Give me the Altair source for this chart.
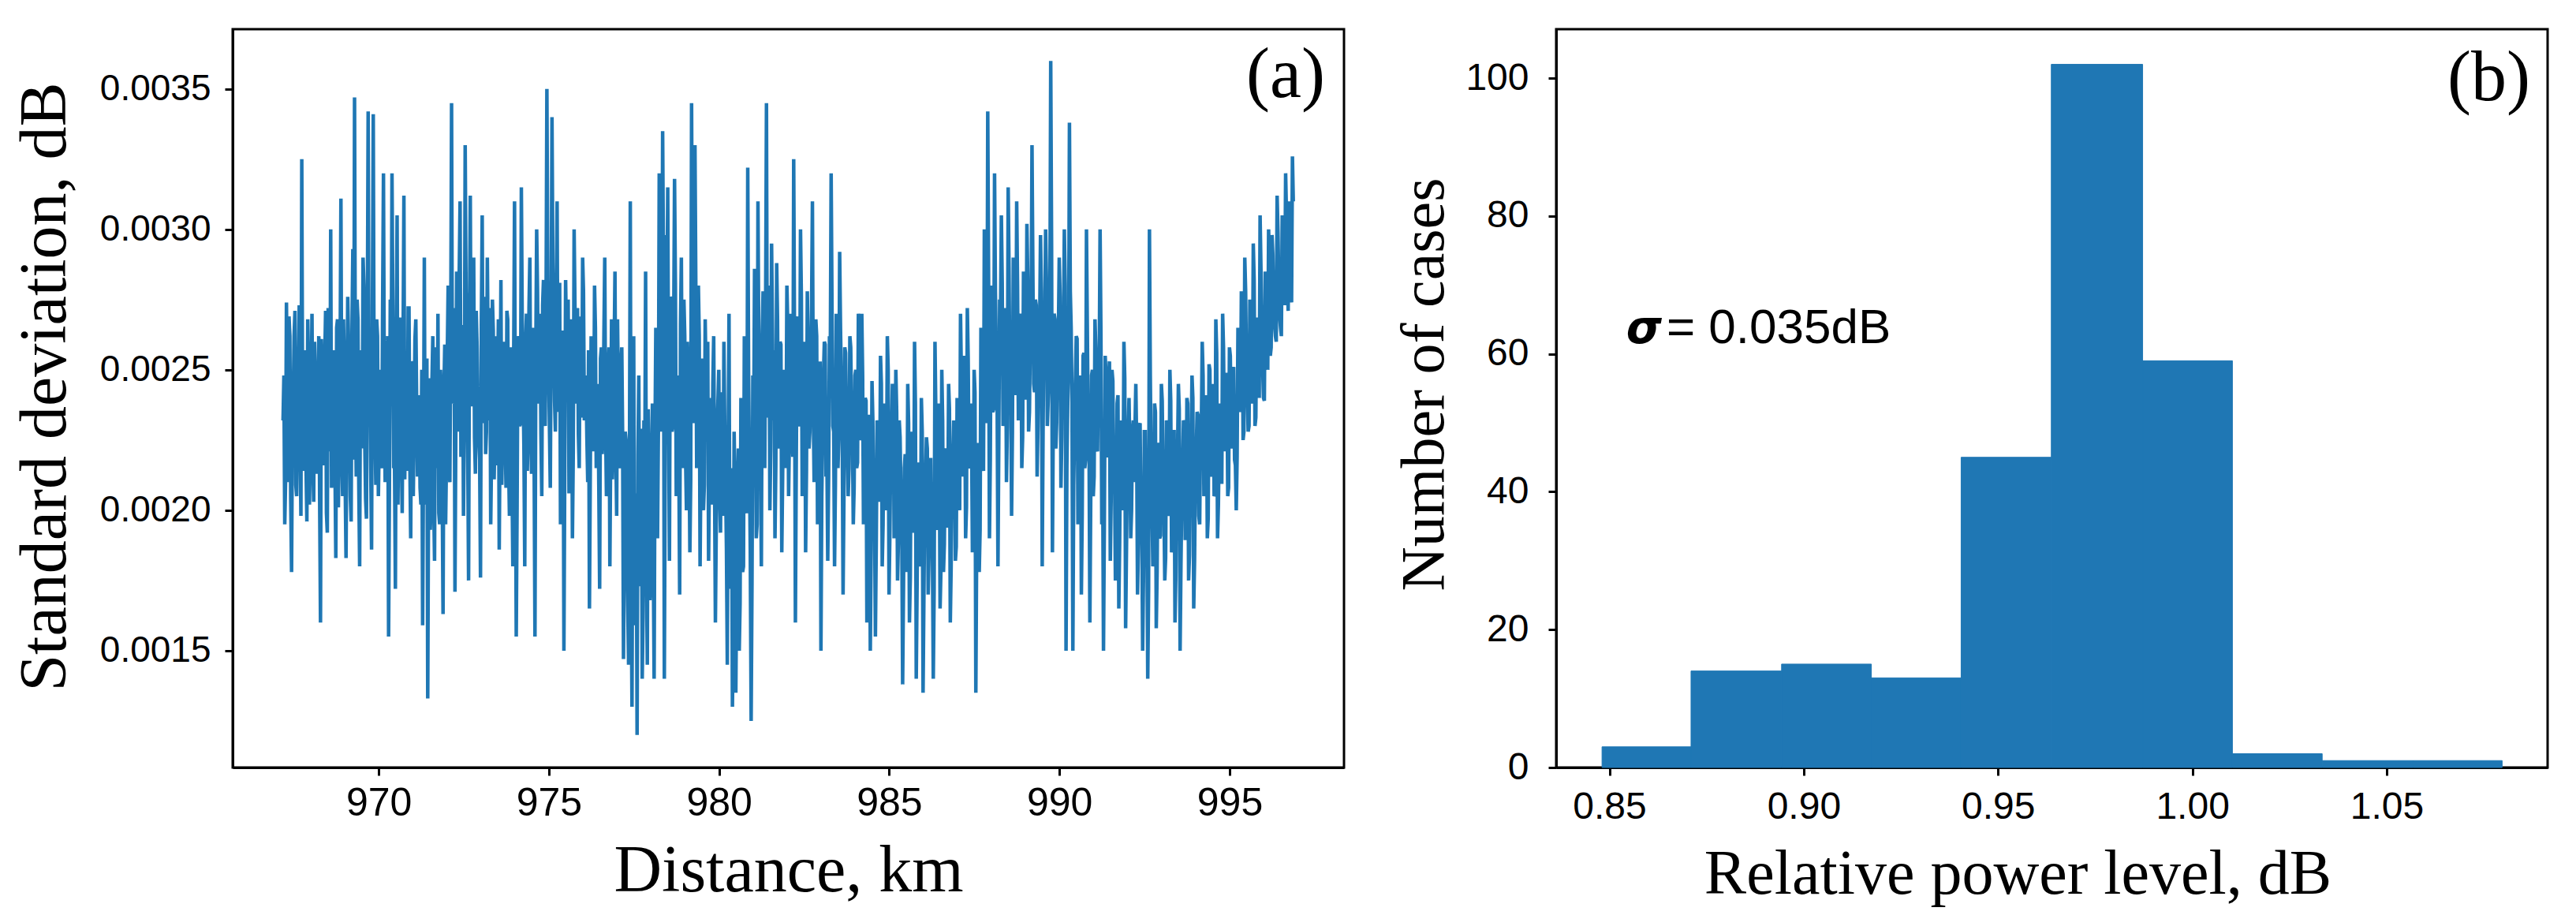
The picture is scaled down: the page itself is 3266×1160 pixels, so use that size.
import altair as alt
import numpy as np
import pandas as pd

# ---------------- Panel (a): standard deviation vs distance ----------------
# values in units of 1e-5 dB.
# seg_* : samples on the even positions, seg_*2 : samples on the odd positions
seg_a = [232, 195, 274, 210, 262, 178, 240, 271, 205, 248, 226, 325, 214, 238, 196, 251, 222, 270, 203, 245,
         218, 262, 160, 247, 228, 271, 192, 255, 300, 218, 236, 183, 268, 229, 311, 205, 250, 183, 276, 240,
         196, 293, 347, 212, 268, 180, 245, 290, 225, 197, 342, 260, 186, 341, 230, 268, 205, 250, 215, 320,
         210, 244, 155, 275, 320, 215, 172, 305, 238, 268, 199, 312, 246, 214, 272, 190, 252, 230, 268, 212,
         241, 202, 159, 290, 225, 133, 247, 205, 262, 182, 228, 270, 195, 241, 163, 259, 218, 280, 210, 345]
seg_a2 = [248, 211, 236, 269, 204, 230, 262, 209, 240, 273, 198, 233, 257, 216, 268, 202, 239, 218, 260, 213,
          237, 204, 261, 216, 253, 199, 272, 221, 208, 257, 216, 265, 201, 250, 222, 268, 210, 236, 259, 205,
          264, 218, 241, 275, 209, 257, 222, 280, 204, 263, 238, 216, 272, 241, 209, 262, 226, 218, 273, 240,
          221, 262, 209, 240, 273, 216, 255, 202, 268, 220, 257, 211, 236, 272, 217, 253, 205, 261, 238, 216,
          208, 250, 217, 202, 254, 211, 193, 246, 204, 258, 215, 199, 250, 208, 241, 195, 256, 216, 262, 238]
seg_b = [240, 171, 285, 228, 310, 254, 198, 330, 265, 175, 312, 240, 290, 213, 258, 225, 176, 305, 247, 220,
         290, 232, 195, 275, 211, 262, 240, 186, 282, 229, 250, 208, 268, 198, 240, 180, 310, 155, 262, 230,
         315, 245, 180, 270, 230, 290, 213, 255, 155, 300, 238, 270, 205, 282, 230, 350, 252, 208, 340, 262,
         228, 310, 270, 195, 258, 150, 282, 240, 206, 268, 190, 300, 245, 272, 215, 260, 290, 232, 248, 210,
         165, 262, 232, 280, 215, 245, 172, 258, 229, 290, 205, 250, 180, 268, 226, 285, 198, 240, 215, 258]
seg_b2 = [272, 228, 261, 284, 219, 266, 233, 278, 222, 265, 237, 280, 226, 271, 234, 218, 267, 231, 276, 228,
          257, 272, 221, 264, 230, 216, 268, 233, 209, 260, 226, 271, 218, 258, 212, 255, 223, 202, 260, 231,
          268, 223, 259, 214, 272, 230, 265, 219, 256, 278, 241, 227, 273, 235, 269, 282, 230, 266, 288, 239,
          272, 235, 281, 228, 264, 216, 259, 275, 230, 266, 221, 272, 238, 227, 269, 233, 278, 241, 226, 257,
          214, 256, 221, 265, 228, 209, 254, 220, 262, 230, 216, 258, 225, 211, 256, 223, 268, 217, 252, 226]
seg_c = [147, 228, 190, 145, 310, 130, 262, 205, 120, 248, 175, 140, 232, 285, 145, 205, 175, 238, 140, 265,
         190, 320, 228, 335, 140, 298, 315, 182, 275, 230, 318, 205, 248, 170, 290, 215, 262, 200, 248, 185,
         345, 260, 330, 215, 280, 180, 248, 200, 268, 225, 182, 240, 210, 262, 160, 230, 250, 192, 225, 260,
         210, 145, 270, 192, 130, 228, 135, 205, 150, 240, 178, 262, 200, 322, 215, 125, 248, 286, 190, 310,
         240, 180, 278, 215, 345, 250, 200, 295, 232, 190, 288, 222, 260, 185, 245, 215, 280, 205, 270, 228]
seg_c2 = [188, 225, 166, 214, 177, 231, 159, 206, 220, 173, 229, 162, 211, 180, 236, 168, 218, 185, 224, 239,
          228, 271, 235, 286, 219, 268, 237, 276, 228, 265, 281, 233, 222, 266, 230, 275, 218, 260, 226, 211,
          272, 231, 280, 226, 262, 218, 254, 209, 248, 260, 216, 202, 245, 211, 194, 239, 205, 242, 198, 229,
          186, 223, 172, 215, 161, 208, 176, 222, 167, 211, 180, 234, 199, 248, 185, 174, 226, 242, 195, 256,
          218, 262, 226, 271, 233, 280, 222, 265, 257, 216, 268, 229, 259, 212, 250, 221, 266, 228, 257, 219]
seg_d = [325, 160, 265, 230, 300, 205, 255, 185, 278, 222, 248, 310, 210, 268, 195, 240, 150, 228, 260, 212,
         182, 262, 320, 230, 180, 270, 215, 292, 245, 170, 258, 228, 205, 262, 235, 195, 248, 215, 270, 225,
         270, 195, 240, 160, 225, 150, 246, 205, 155, 232, 210, 255, 180, 238, 200, 262, 170, 222, 245, 190,
         250, 175, 232, 205, 138, 215, 178, 245, 160, 228, 198, 260, 140, 212, 180, 240, 135, 205, 226, 170,
         218, 185, 140, 260, 200, 238, 165, 250, 178, 222, 195, 245, 160, 215, 232, 182, 240, 205, 270, 225]
seg_d2 = [258, 216, 269, 231, 276, 222, 260, 214, 255, 228, 271, 237, 223, 262, 216, 253, 205, 248, 259, 220,
          211, 254, 272, 228, 209, 260, 226, 265, 231, 204, 256, 222, 215, 258, 229, 208, 250, 217, 262, 226,
          248, 206, 239, 191, 234, 186, 232, 200, 188, 230, 203, 245, 195, 236, 204, 250, 192, 229, 241, 198,
          235, 189, 226, 194, 172, 220, 183, 231, 176, 223, 192, 238, 174, 217, 186, 228, 170, 213, 222, 185,
          218, 186, 171, 235, 193, 227, 179, 232, 188, 221, 194, 236, 180, 219, 228, 187, 231, 200, 248, 212]
seg_e = [255, 190, 272, 215, 238, 185, 250, 135, 210, 178, 265, 220, 300, 245, 342, 190, 280, 235, 320, 255,
         180, 275, 305, 230, 262, 210, 315, 245, 198, 290, 255, 310, 232, 270, 215, 285, 240, 302, 228, 262,
         330, 245, 275, 212, 258, 298, 180, 265, 300, 230, 248, 360, 185, 270, 222, 255, 290, 208, 262, 300,
         150, 238, 338, 265, 150, 228, 262, 195, 240, 170, 255, 215, 300, 230, 160, 248, 205, 268, 222, 250,
         300, 195, 150, 255, 220, 245, 182, 250, 210, 175, 238, 165, 225, 200, 260, 158, 215, 240, 190, 228]
seg_e2 = [240, 201, 254, 216, 228, 196, 242, 188, 224, 193, 248, 214, 266, 231, 282, 218, 269, 236, 278, 242,
          226, 268, 281, 239, 272, 230, 286, 245, 228, 276, 241, 280, 237, 268, 226, 274, 240, 283, 235, 269,
          286, 242, 273, 230, 265, 278, 228, 267, 282, 239, 270, 295, 233, 268, 231, 262, 276, 226, 265, 280,
          216, 251, 278, 239, 209, 246, 261, 212, 248, 199, 256, 218, 265, 227, 204, 250, 212, 257, 221, 253,
          262, 216, 195, 248, 219, 253, 204, 246, 215, 197, 241, 189, 232, 203, 247, 186, 228, 219, 200, 232]
seg_f = [210, 245, 170, 230, 195, 150, 228, 200, 140, 300, 215, 180, 238, 158, 222, 190, 245, 210, 175, 232,
         200, 250, 185, 228, 160, 215, 245, 150, 205, 232, 190, 240, 175, 220, 248, 165, 212, 235, 198, 228,
         260, 205, 238, 190, 252, 215, 240, 205, 268, 190, 228, 210, 270, 225, 245, 205, 258, 230, 250, 218,
         200, 265, 240, 278, 225, 290, 250, 228, 275, 245, 295, 230, 268, 250, 305, 262, 240, 285, 270, 300,
         255, 298, 272, 262, 312, 280, 265, 305, 290, 320, 285, 310, 278, 326]
seg_f2 = [229, 222, 188, 231, 197, 176, 228, 194, 172, 248, 201, 186, 235, 178, 224, 191, 239, 202, 183, 230,
          198, 239, 189, 228, 176, 219, 236, 180, 217, 231, 190, 238, 184, 223, 240, 182, 221, 234, 195, 229,
          248, 209, 241, 197, 250, 212, 245, 206, 256, 202, 238, 210, 258, 221, 249, 208, 255, 222, 251, 216,
          219, 262, 235, 272, 228, 278, 241, 230, 269, 238, 282, 233, 268, 240, 286, 251, 239, 278, 250, 288,
          258, 291, 266, 260, 299, 269, 262, 298, 273, 305, 271, 302, 274, 310]
dist_first_km = 967.19
dist_last_km = 996.87

x_ticks_a = [970, 975, 980, 985, 990, 995]
y_ticks_a = [0.0015, 0.0020, 0.0025, 0.0030, 0.0035]

# ---------------- Panel (b): histogram ----------------
bin_edges = [0.8481, 0.8710, 0.8943, 0.9174, 0.9405, 0.9637, 0.9872, 1.0103, 1.0334, 1.0568, 1.0797]
bin_counts = [3, 14, 15, 13, 45, 102, 59, 2, 1, 1]
x_ticks_b = [0.85, 0.90, 0.95, 1.00, 1.05]
y_ticks_b = [0, 20, 40, 60, 80, 100]

# ---------------- build tables ----------------
even = seg_a + seg_b + seg_c + seg_d + seg_e + seg_f
odd = seg_a2 + seg_b2 + seg_c2 + seg_d2 + seg_e2 + seg_f2
std_e5 = []
for v_even, v_odd in zip(even, odd):
    std_e5.extend([v_even, v_odd])

line_df = pd.DataFrame({
    "distance": np.linspace(dist_first_km, dist_last_km, len(std_e5)),
    "std": np.array(std_e5, dtype=float) / 1e5,
})
hist_df = pd.DataFrame({"lo": bin_edges[:-1], "hi": bin_edges[1:], "count": bin_counts})

BLUE = "#1f77b4"
LW, LH = 1409, 936
RW, RH = 1257, 936
LABEL_FONT = "Liberation Sans"
TITLE_FONT = "Liberation Serif"

line = alt.Chart(line_df).mark_line(color=BLUE, strokeWidth=4.5, clip=True).encode(
    x=alt.X("distance:Q",
            scale=alt.Scale(domain=[965.71, 998.36], nice=False, zero=False),
            axis=alt.Axis(values=x_ticks_a, format="d", title="Distance, km",
                          labelFontSize=50, labelPadding=10,
                          titleFontSize=84, titlePadding=20)),
    y=alt.Y("std:Q",
            scale=alt.Scale(domain=[0.001084, 0.003713], nice=False, zero=False),
            axis=alt.Axis(values=y_ticks_a, format=".4f", title="Standard deviation, dB",
                          labelFontSize=46, labelPadding=18,
                          titleFontSize=84, titlePadding=26, titleY=453)),
)
label_a = alt.Chart(pd.DataFrame({"t": ["(a)"]})).mark_text(
    font=TITLE_FONT, fontSize=90, align="right", baseline="alphabetic", color="black"
).encode(text="t:N", x=alt.value(1385), y=alt.value(86))

left = alt.layer(line, label_a).properties(width=LW, height=LH)

bars = alt.Chart(hist_df).mark_bar(color=BLUE, stroke=BLUE, strokeWidth=1).encode(
    x=alt.X("lo:Q",
            scale=alt.Scale(domain=[0.8363, 1.0914], nice=False, zero=False),
            axis=alt.Axis(values=x_ticks_b, format=".2f", title="Relative power level, dB",
                          labelFontSize=48, labelPadding=16,
                          titleFontSize=80, titlePadding=22, titleX=585)),
    x2="hi:Q",
    y=alt.Y("count:Q",
            scale=alt.Scale(domain=[0, 107.1], nice=False, zero=True),
            axis=alt.Axis(values=y_ticks_b, format="d", title="Number of cases",
                          labelFontSize=48, labelPadding=25,
                          titleFontSize=78, titlePadding=12, titleY=450)),
    y2=alt.datum(0),
)
sigma_sym = alt.Chart(pd.DataFrame({"x": [0.8543], "y": [61.6], "t": ["σ"]})).mark_text(
    font="DejaVu Sans", fontStyle="italic", fontWeight="bold", fontSize=58,
    align="left", baseline="alphabetic", color="black"
).encode(x="x:Q", y="y:Q", text="t:N")
sigma_val = alt.Chart(pd.DataFrame({"x": [0.8647], "y": [61.6], "t": ["= 0.035dB"]})).mark_text(
    font=LABEL_FONT, fontSize=62, align="left", baseline="alphabetic", color="black"
).encode(x="x:Q", y="y:Q", text="t:N")
label_b = alt.Chart(pd.DataFrame({"t": ["(b)"]})).mark_text(
    font=TITLE_FONT, fontSize=90, align="right", baseline="alphabetic", color="black"
).encode(text="t:N", x=alt.value(1235), y=alt.value(90))

right = alt.layer(bars, sigma_sym, sigma_val, label_b).properties(width=RW, height=RH)

chart = alt.hconcat(left, right, spacing=60).properties(
    padding={"left": 5, "top": 27, "right": 10, "bottom": 10},
    background="white",
).configure_view(
    stroke="black", strokeWidth=3
).configure_axis(
    grid=False,
    domainColor="black", domainWidth=3,
    tickColor="black", tickWidth=3, tickSize=10,
    labelFont=LABEL_FONT, labelColor="black",
    titleFont=TITLE_FONT, titleFontWeight="normal", titleColor="black",
)

chart.save("out.html", embed_options={"renderer": "svg", "actions": False})
